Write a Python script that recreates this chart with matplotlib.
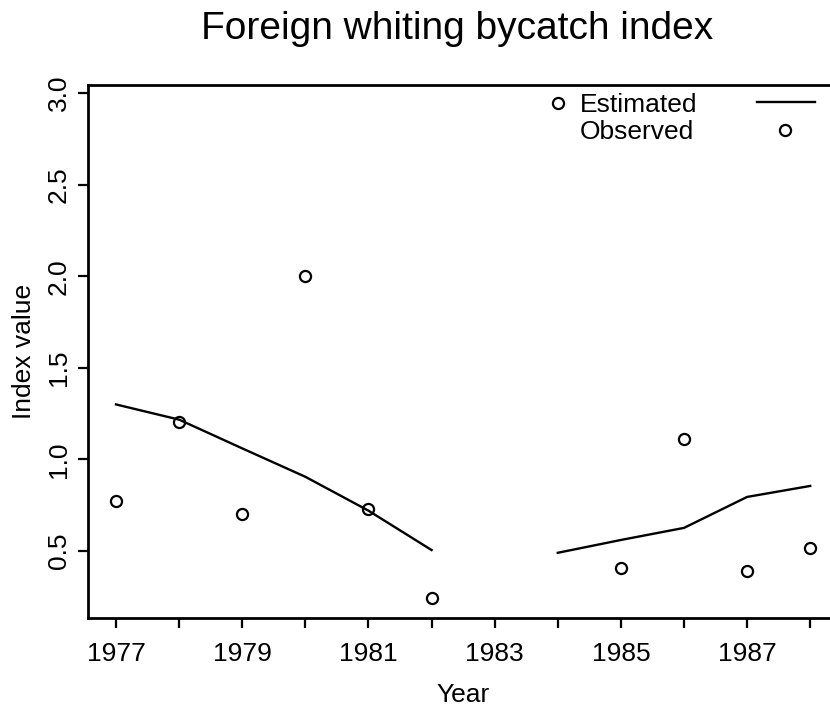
import numpy as np
import matplotlib
matplotlib.use("Agg")
import matplotlib.pyplot as plt

plt.rcParams['font.family'] = ['Liberation Sans', 'DejaVu Sans']

years = [1977, 1978, 1979, 1980, 1981, 1982, 1983, 1984, 1985, 1986, 1987, 1988]
observed = [0.774, 1.206, 0.70, 2.0, 0.73, 0.243, np.nan, 2.945, 0.407, 1.113, 0.39, 0.516]
estimated = [1.30, 1.217, 1.06, 0.905, 0.72, 0.505, np.nan, 0.49, 0.56, 0.626, 0.795, 0.855]
xtick_labels = ['1977', '', '1979', '', '1981', '', '1983', '', '1985', '', '1987', '']
yticks = [0.5, 1.0, 1.5, 2.0, 2.5, 3.0]
ytick_labels = ['0.5', '1.0', '1.5', '2.0', '2.5', '3.0']

W, H = 830, 711
fig = plt.figure(figsize=(W/100, H/100), dpi=100)
L, R, T, B = 88, 838, 85, 618
ax = fig.add_axes([L/W, 1-B/H, (R-L)/W, (B-T)/H])

ax.plot(years, estimated, color='black', lw=1.7)
ax.plot(years, observed, linestyle='none', marker='o', ms=8, mfc='none', mec='black', mew=1.6)

ax.set_xlim(1976.556, 1988.44)
ax.set_ylim(0.134, 3.044)
ax.set_xticks(years)
ax.set_xticklabels(xtick_labels)
ax.set_yticks(yticks)
ax.set_yticklabels(ytick_labels, rotation=90, va='center')
ax.tick_params(direction='out', length=7.5, width=1.6, labelsize=19)
ax.tick_params(axis='x', pad=10)
ax.tick_params(axis='y', pad=5)
for s in ax.spines.values():
    s.set_linewidth(2)

ax.set_xlabel('Year', fontsize=19, labelpad=12)
ax.set_ylabel('Index value', fontsize=19, labelpad=8)
fig.text(457/W, 1-39/H, 'Foreign whiting bycatch index', fontsize=28,
         ha='center', va='baseline')

# legend (R style, misaligned)
ax.text(1984.35, 2.934, 'Estimated', fontsize=19, ha='left', va='center')
ax.text(1984.35, 2.79, 'Observed', fontsize=19, ha='left', va='center')
ax.plot([1987.16, 1988.08], [2.95, 2.95], color='black', lw=1.7, clip_on=False)
ax.plot([1987.6], [2.80], marker='o', ms=8, mfc='none', mec='black', mew=1.6, linestyle='none')

fig.savefig('out.png', dpi=100)
